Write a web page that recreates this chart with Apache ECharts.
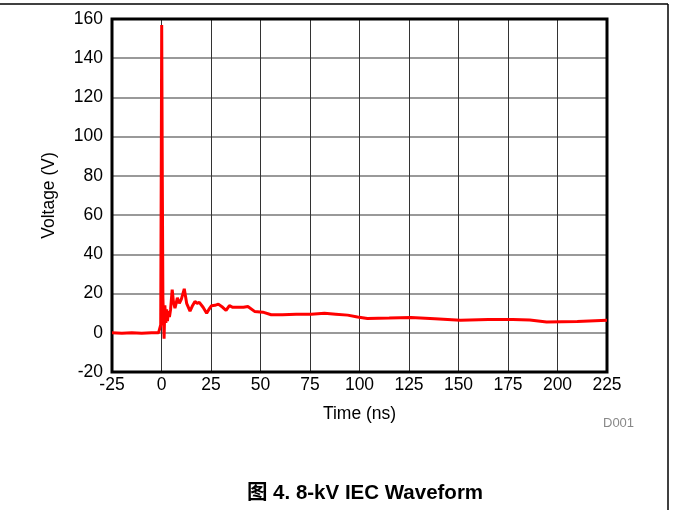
<!DOCTYPE html>
<html>
<head>
<meta charset="utf-8">
<script src="https://cdn.jsdelivr.net/npm/echarts@6/dist/echarts.min.js"></script>
<style>
  html, body { margin: 0; padding: 0; background: #fff; }
  #chart { width: 673px; height: 510px; }
</style>
</head>
<body>
<div id="chart"></div>
<script>
const timeNs = [
  -25, -20, -15, -10, -5, -1.5, -0.8, -0.4, -0.1, 0.1, 0.4, 0.7, 1.0, 1.3, 1.7,
  2.2, 2.6, 3.0, 3.5, 4.0, 4.6, 5.4, 6.0, 6.8, 7.4, 8.0, 9.0, 10.0, 11.5, 12.7,
  14.4, 15.5, 16.9, 18, 19.1, 21, 22.8, 24, 25.3, 27, 28.7, 30.9, 32.6, 34.3, 36,
  38, 41.4, 43.6, 47, 51.2, 55.4, 61.1, 68, 75.6, 82.3, 88, 94, 99, 104, 115,
  126, 138, 151, 165, 177.5, 186, 194.5, 210, 225
]
const voltage = [
  0, -0.2, 0, -0.3, 0, 0, 0.5, 4, 90, 157, 80, 18, 8, -3, 14,
  5, 12, 6, 11, 8, 12, 22, 16, 12.5, 15, 17.8, 15, 17, 22.4, 15,
  11, 13.5, 16, 15, 15.5, 13, 10, 12, 13.8, 14, 14.6, 13, 11.4, 13.8, 13,
  13, 13, 13.4, 10.9, 10.5, 9.2, 9.2, 9.5, 9.5, 9.9, 9.5, 9, 8, 7.3, 7.5,
  7.8, 7.2, 6.4, 6.8, 6.8, 6.5, 5.5, 5.8, 6.4
]
const xTicks = { min: -25, max: 225, step: 25 }
const yTicks = { min: -20, max: 160, step: 20 }

const chart = echarts.init(document.getElementById('chart'))
const font = 'Liberation Sans, Arial, sans-serif'

const option = {
  animation: false,
  backgroundColor: '#fff',
  grid: {
    left: 112,
    top: 19,
    right: 66,
    bottom: 138,
    show: true,
    z: 4,
    borderColor: '#000',
    borderWidth: 3,
    backgroundColor: 'transparent'
  },
  xAxis: {
    type: 'value',
    min: xTicks.min,
    max: xTicks.max,
    interval: xTicks.step,
    name: 'Time (ns)',
    nameLocation: 'middle',
    nameGap: 33,
    nameTextStyle: { color: '#000', fontSize: 17.5, fontFamily: font },
    axisLine: { show: false },
    axisTick: { show: false },
    axisLabel: { color: '#000', fontSize: 17.5, fontFamily: font, margin: 4 },
    splitLine: { show: true, lineStyle: { color: '#333', width: 1 } }
  },
  yAxis: {
    type: 'value',
    min: yTicks.min,
    max: yTicks.max,
    interval: yTicks.step,
    name: 'Voltage (V)',
    nameLocation: 'middle',
    nameGap: 54,
    nameTextStyle: { color: '#000', fontSize: 17.5, fontFamily: font },
    axisLine: { show: false },
    axisTick: { show: false },
    axisLabel: { color: '#000', fontSize: 17.5, fontFamily: font, margin: 9 },
    splitLine: { show: true, lineStyle: { color: '#777', width: 1.5 } }
  },
  series: [
    {
      type: 'line',
      data: timeNs.map((t, i) => [t, voltage[i]]),
      showSymbol: false,
      lineStyle: { color: '#ff0000', width: 3 },
      itemStyle: { color: '#ff0000' },
      z: 5
    }
  ],
  graphic: [
    {
      type: 'line',
      shape: { x1: 0, y1: 4, x2: 668, y2: 4 },
      style: { stroke: '#000', lineWidth: 1.5 }
    },
    {
      type: 'line',
      shape: { x1: 668, y1: 4, x2: 668, y2: 510 },
      style: { stroke: '#000', lineWidth: 1.5 }
    },
    {
      type: 'text',
      left: 603,
      top: 417,
      style: { text: 'D001', fill: '#888', fontSize: 13, fontFamily: font }
    },
    {
      type: 'text',
      x: 365,
      y: 493,
      style: {
        text: '图 4. 8-kV IEC Waveform',
        fill: '#000',
        fontSize: 20.5,
        fontWeight: 'bold',
        fontFamily: 'Liberation Sans, Arial, Noto Sans CJK SC, sans-serif',
        align: 'center',
        verticalAlign: 'middle'
      }
    }
  ]
}

chart.setOption(option)
</script>
</body>
</html>
